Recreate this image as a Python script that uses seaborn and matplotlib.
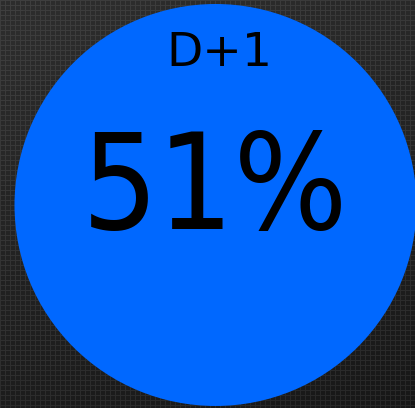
import numpy as np
import seaborn as sns
import matplotlib.pyplot as plt
from matplotlib.patches import Circle

# values shown on the tile
label = "D+1"
percent = 51

# tile geometry (pixels)
W, H = 415, 408
center_x, center_y, radius = 215.5, 205, 201
circle_color = "#0068ff"

sns.set_theme(style="white")
plt.rcParams["font.family"] = ["DejaVu Sans"]

fig = plt.figure(figsize=(W / 100, H / 100), dpi=100)
ax = fig.add_axes([0, 0, 1, 1])

# dark woven background texture, lighter toward the top-left
yy, xx = np.mgrid[0:H, 0:W]
base = 0.20 - 0.07 * (yy / H) - 0.02 * (xx / W)
weave = ((xx % 5) == 0) | ((yy % 5) == 0)
tex = base + np.where(weave, 0.045, -0.02)
ax.imshow(np.clip(tex, 0, 1), cmap="gray", vmin=0, vmax=1,
          extent=(0, W, H, 0), interpolation="nearest")

ax.add_patch(Circle((center_x, center_y), radius, color=circle_color, lw=0))

ax.text(center_x + 4, 54, label, ha="center", va="center",
        fontsize=34, color="black")
ax.text(center_x, 192, f"{percent}%", ha="center", va="center",
        fontsize=96, fontstretch="condensed", color="black")

ax.set_xlim(0, W)
ax.set_ylim(H, 0)
ax.axis("off")

fig.savefig("out.png", dpi=100)
